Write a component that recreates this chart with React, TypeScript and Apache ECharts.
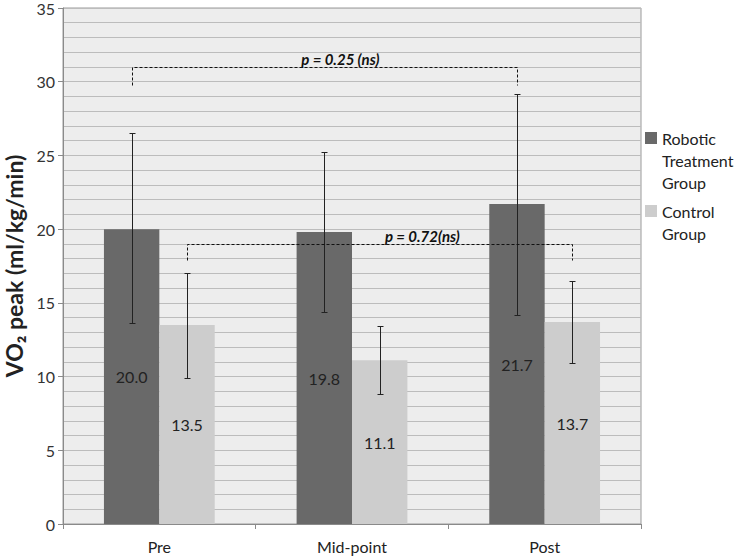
import React, { useEffect, useRef } from 'react';
import * as echarts from 'echarts';

const categories = ['Pre', 'Mid-point', 'Post'];
const seriesNames = ['Robotic Treatment Group', 'Control Group'];
const roboticValues = [20.0, 19.8, 21.7];
const controlValues = [13.5, 11.1, 13.7];
const roboticLow = [13.6, 14.4, 14.2];
const roboticHigh = [26.5, 25.2, 29.2];
const controlLow = [9.9, 8.8, 10.9];
const controlHigh = [17.0, 13.4, 16.5];

const bracketLabels = ['p = 0.25 (ns)', 'p = 0.72(ns)'];
const bracketSeries = [0, 1];
const bracketFromCat = [0, 0];
const bracketToCat = [2, 2];
const bracketLineY = [31.0, 19.0];
const bracketEndY = [29.8, 17.9];
const bracketLabelPos = [0.54, 0.61];

const GAP = 0.425;
const FONT = 'Lato, "Open Sans", sans-serif';
const colors = ['#696969', '#cdcdcd'];

function barOffset(api: any, s: number) {
  const bw = api.size([1, 0])[0];
  const barW = (bw * (1 - GAP)) / 2;
  return s === 0 ? -barW / 2 : barW / 2;
}

function errorSeries(s: number, lows: number[], highs: number[]) {
  return {
    type: 'custom',
    z: 5,
    silent: true,
    data: lows.map((lo, i) => [i, lo, highs[i]]),
    encode: { x: 0, y: [1, 2] },
    renderItem: (params: any, api: any) => {
      const cat = api.value(0);
      const lo = api.value(1);
      const hi = api.value(2);
      const cx = Math.round(api.coord([cat, 0])[0] + barOffset(api, s)) + 0.5;
      const yHi = Math.round(api.coord([cat, hi])[1]) + 0.5;
      const yLo = Math.round(api.coord([cat, lo])[1]) + 0.5;
      const st = { stroke: '#222', lineWidth: 1 };
      return {
        type: 'group',
        children: [
          { type: 'line', shape: { x1: cx, y1: yHi, x2: cx, y2: yLo }, style: st },
          { type: 'line', shape: { x1: cx - 3, y1: yHi, x2: cx + 3, y2: yHi }, style: st },
          { type: 'line', shape: { x1: cx - 3, y1: yLo, x2: cx + 3, y2: yLo }, style: st },
        ],
      };
    },
  };
}

export default function App() {
  const ref = useRef<HTMLDivElement>(null);
  useEffect(() => {
    if (!ref.current) return;
    const chart = echarts.init(ref.current, null, { renderer: 'svg' });
    const bracketData = bracketLabels.map((_, i) => [
      bracketFromCat[i],
      bracketToCat[i],
      bracketLineY[i],
      bracketEndY[i],
    ]);
    chart.setOption({
      animation: false,
      textStyle: { fontFamily: FONT },
      grid: {
        left: 63,
        right: 98,
        top: 8,
        bottom: 34,
        containLabel: false,
        outerBoundsMode: 'none',
        show: true,
        backgroundColor: '#ededed',
        borderColor: '#9a9a9a',
        borderWidth: 1,
      },
      legend: {
        orient: 'vertical',
        left: 645,
        top: 127,
        padding: 0,
        itemWidth: 12,
        itemHeight: 58,
        itemGap: 0,
        selectedMode: false,
        data: [
          {
            name: seriesNames[0],
            icon: 'path://M0,1h12v12h-12z M0,0h0.01v0.01h-0.01z M11.99,57.99h0.01v0.01h-0.01z',
          },
          {
            name: seriesNames[1],
            icon: 'path://M0,12h12v12h-12z M0,0h0.01v0.01h-0.01z M11.99,57.99h0.01v0.01h-0.01z',
          },
        ],
        textStyle: {
          fontFamily: FONT,
          fontSize: 16,
          color: '#222',
          width: 80,
          overflow: 'break',
          lineHeight: 22,
        },
      },
      xAxis: {
        type: 'category',
        data: categories,
        axisLine: { lineStyle: { color: '#8a8a8a' } },
        axisTick: { show: true, length: 5, lineStyle: { color: '#8a8a8a' } },
        axisLabel: { fontSize: 16, color: '#222', margin: 14, fontFamily: FONT },
      },
      yAxis: {
        type: 'value',
        min: 0,
        max: 35,
        interval: 5,
        name: 'VO₂ peak (ml/kg/min)',
        nameLocation: 'middle',
        nameRotate: 90,
        nameGap: 38,
        nameTextStyle: { fontSize: 23, fontWeight: 'bold', color: '#222', fontFamily: FONT },
        axisLine: { show: true, lineStyle: { color: '#8a8a8a' } },
        axisTick: { show: true, length: 5, lineStyle: { color: '#8a8a8a' } },
        axisLabel: { fontSize: 16, lineHeight: 14, color: '#333', margin: 8, fontFamily: FONT },
        splitLine: { show: true, lineStyle: { color: '#bcbcbc', width: 1 } },
        minorTick: { show: false, splitNumber: 5 },
        minorSplitLine: { show: true, lineStyle: { color: '#bcbcbc', width: 1 } },
      },
      series: [
        {
          name: seriesNames[0],
          type: 'bar',
          data: roboticValues,
          barGap: '0%',
          barCategoryGap: GAP * 100 + '%',
          itemStyle: { color: colors[0] },
          label: {
            show: true,
            position: 'inside',
            fontSize: 16,
            color: '#222',
            fontFamily: FONT,
            formatter: (p: any) => Number(p.value).toFixed(1),
          },
        },
        {
          name: seriesNames[1],
          type: 'bar',
          data: controlValues,
          barGap: '0%',
          barCategoryGap: GAP * 100 + '%',
          itemStyle: { color: colors[1] },
          label: {
            show: true,
            position: 'inside',
            fontSize: 16,
            color: '#222',
            fontFamily: FONT,
            formatter: (p: any) => Number(p.value).toFixed(1),
          },
        },
        errorSeries(0, roboticLow, roboticHigh),
        errorSeries(1, controlLow, controlHigh),
        {
          type: 'custom',
          z: 6,
          silent: true,
          data: bracketData,
          encode: { x: [0, 1], y: [2, 3] },
          renderItem: (params: any, api: any) => {
            const i = params.dataIndex;
            const s = bracketSeries[i];
            const off = barOffset(api, s);
            const x1 = Math.round(api.coord([api.value(0), 0])[0] + off) + 0.5;
            const x2 = Math.round(api.coord([api.value(1), 0])[0] + off) + 0.5;
            const yl = Math.round(api.coord([0, api.value(2)])[1]) + 0.5;
            const ye = Math.round(api.coord([0, api.value(3)])[1]) + 0.5;
            return {
              type: 'group',
              children: [
                {
                  type: 'polyline',
                  shape: { points: [[x1, ye], [x1, yl], [x2, yl], [x2, ye]] },
                  style: { stroke: '#111', lineWidth: 1, lineDash: [3, 2], fill: null },
                },
                {
                  type: 'text',
                  style: {
                    text: bracketLabels[i],
                    x: x1 + (x2 - x1) * bracketLabelPos[i],
                    y: yl - 9,
                    align: 'center',
                    verticalAlign: 'middle',
                    fontSize: 15,
                    fontWeight: 'bold',
                    fontStyle: 'italic',
                    fontFamily: FONT,
                    fill: '#111',
                  },
                },
              ],
            };
          },
        },
      ],
    });
    return () => chart.dispose();
  }, []);
  return (
    <div
      ref={ref}
      style={{ position: 'absolute', left: 0, top: 0, width: 739, height: 558 }}
    />
  );
}
